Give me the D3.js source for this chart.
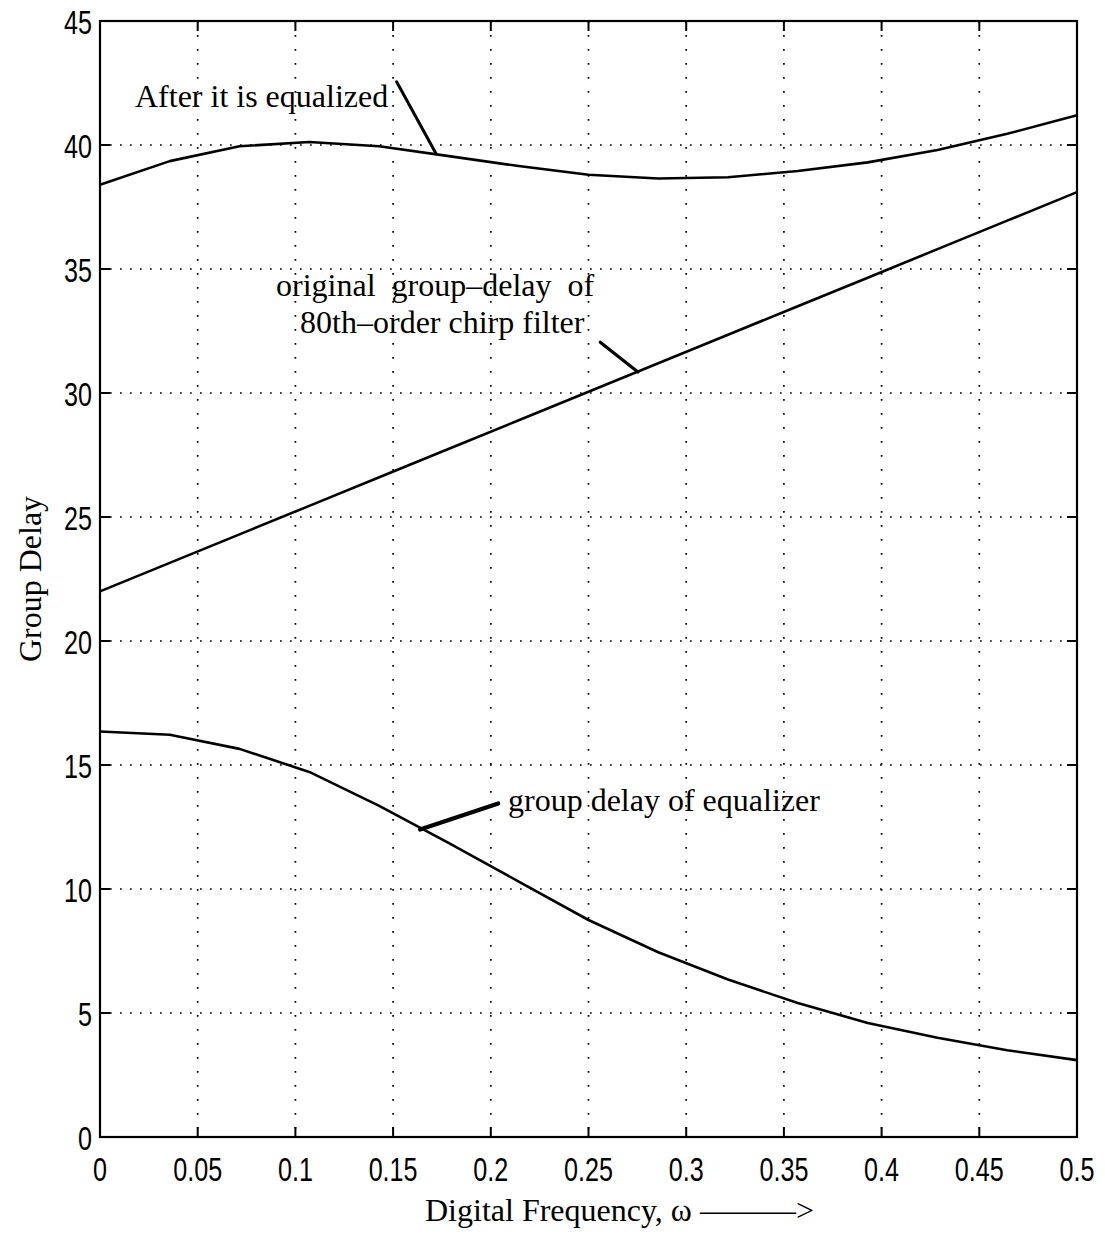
<!DOCTYPE html>
<html>
<head>
<meta charset="utf-8">
<script src="https://cdn.jsdelivr.net/npm/d3@7"></script>
<style>
  body { margin: 0; background: #fff; }
  .tick-label { font-family: "Liberation Sans Narrow", "Arial Narrow", "Liberation Sans", sans-serif; font-size: 34px; fill: #000; }
  .note { font-family: "Liberation Serif", "Times New Roman", serif; font-size: 32px; fill: #000; white-space: pre; }
</style>
</head>
<body>
<div id="chart"></div>
<script>
// sample frequencies (0 .. 0.5 in 14 steps)
const freq = [0, 0.0357, 0.0714, 0.1071, 0.1429, 0.1786, 0.2143, 0.25, 0.2857, 0.3214, 0.3571, 0.3929, 0.4286, 0.4643, 0.5];
const equalized = [38.4, 39.35, 39.95, 40.12, 39.95, 39.55, 39.15, 38.8, 38.65, 38.7, 38.95, 39.3, 39.8, 40.45, 41.2];
const original = [22.0, 23.15, 24.3, 25.45, 26.6, 27.75, 28.9, 30.05, 31.2, 32.35, 33.5, 34.65, 35.8, 36.95, 38.1];
const equalizer = [16.35, 16.22, 15.65, 14.72, 13.35, 11.85, 10.3, 8.75, 7.45, 6.35, 5.4, 4.6, 4.0, 3.5, 3.1];

const xTicks = [0, 0.05, 0.1, 0.15, 0.2, 0.25, 0.3, 0.35, 0.4, 0.45, 0.5];
const xTickLabels = ['0', '0.05', '0.1', '0.15', '0.2', '0.25', '0.3', '0.35', '0.4', '0.45', '0.5'];
const yTicks = [0, 5, 10, 15, 20, 25, 30, 35, 40, 45];

let svgWidth = 1105, svgHeight = 1242,
  plotLeft = 100, plotRight = 1077,
  plotTop = 21, plotBottom = 1137,
  tickLen = 10,
  squeeze = 0.74; // tick font is a condensed sans

const svg = d3.select('#chart')
  .append('svg')
  .attr('width', svgWidth)
  .attr('height', svgHeight);

const x = d3.scaleLinear().domain([0, 0.5]).range([plotLeft, plotRight]);
const y = d3.scaleLinear().domain([0, 45]).range([plotBottom, plotTop]);

// dotted grid
svg.selectAll('.vgrid')
  .data(xTicks.slice(1, -1))
  .enter()
  .append('line')
  .attr('x1', d => x(d)).attr('x2', d => x(d))
  .attr('y1', plotTop).attr('y2', plotBottom)
  .attr('stroke', '#000')
  .attr('stroke-width', 1.7)
  .attr('stroke-dasharray', '1.7,12.3');

svg.selectAll('.hgrid')
  .data(yTicks.slice(1, -1))
  .enter()
  .append('line')
  .attr('x1', plotLeft).attr('x2', plotRight)
  .attr('y1', d => y(d)).attr('y2', d => y(d))
  .attr('stroke', '#000')
  .attr('stroke-width', 1.7)
  .attr('stroke-dasharray', '1.7,8.3');

// inward ticks on all four sides
svg.selectAll('.xtick-b')
  .data(xTicks)
  .enter()
  .append('line')
  .attr('x1', d => x(d)).attr('x2', d => x(d))
  .attr('y1', plotBottom).attr('y2', plotBottom - tickLen)
  .attr('stroke', '#000').attr('stroke-width', 2);

svg.selectAll('.xtick-t')
  .data(xTicks)
  .enter()
  .append('line')
  .attr('x1', d => x(d)).attr('x2', d => x(d))
  .attr('y1', plotTop).attr('y2', plotTop + tickLen)
  .attr('stroke', '#000').attr('stroke-width', 2);

svg.selectAll('.ytick-l')
  .data(yTicks)
  .enter()
  .append('line')
  .attr('x1', plotLeft).attr('x2', plotLeft + tickLen)
  .attr('y1', d => y(d)).attr('y2', d => y(d))
  .attr('stroke', '#000').attr('stroke-width', 2);

svg.selectAll('.ytick-r')
  .data(yTicks)
  .enter()
  .append('line')
  .attr('x1', plotRight).attr('x2', plotRight - tickLen)
  .attr('y1', d => y(d)).attr('y2', d => y(d))
  .attr('stroke', '#000').attr('stroke-width', 2);

// frame
svg.append('rect')
  .attr('x', plotLeft).attr('y', plotTop)
  .attr('width', plotRight - plotLeft).attr('height', plotBottom - plotTop)
  .attr('fill', 'none')
  .attr('stroke', '#000')
  .attr('stroke-width', 2.2);

// tick labels
svg.selectAll('.x-label')
  .data(xTicks)
  .enter()
  .append('text')
  .attr('class', 'tick-label')
  .attr('transform', d => `translate(${x(d)}, ${plotBottom + 44}) scale(${squeeze}, 1)`)
  .attr('text-anchor', 'middle')
  .text((d, i) => xTickLabels[i]);

svg.selectAll('.y-label')
  .data(yTicks)
  .enter()
  .append('text')
  .attr('class', 'tick-label')
  .attr('transform', d => `translate(${plotLeft - 8}, ${y(d) + 12.5}) scale(${squeeze}, 1)`)
  .attr('text-anchor', 'end')
  .text(d => d);

// curves
const line = d3.line()
  .x((d, i) => x(freq[i]))
  .y(d => y(d));

[equalized, original, equalizer].forEach(series => {
  svg.append('path')
    .datum(series)
    .attr('d', line)
    .attr('fill', 'none')
    .attr('stroke', '#000')
    .attr('stroke-width', 2.6)
    .attr('stroke-linejoin', 'round');
});

// annotation pointers, in data units
const pointers = [
  { x1: 0.1518, y1: 42.55, x2: 0.1720, y2: 39.65, w: 3 },
  { x1: 0.2560, y1: 32.05, x2: 0.2753, y2: 30.85, w: 3.2 },
  { x1: 0.2038, y1: 13.45, x2: 0.1638, y2: 12.4, w: 4.2 }
];

svg.selectAll('.pointer')
  .data(pointers)
  .enter()
  .append('line')
  .attr('x1', d => x(d.x1)).attr('y1', d => y(d.y1))
  .attr('x2', d => x(d.x2)).attr('y2', d => y(d.y2))
  .attr('stroke', '#000')
  .attr('stroke-width', d => d.w)
  .attr('stroke-linecap', 'round');

// annotation texts
const notes = [
  { text: 'After it is equalized', fx: 0.0179, gd: 41.55 },
  { text: 'original  group\u2013delay  of', fx: 0.0901, gd: 33.93 },
  { text: '80th\u2013order chirp filter', fx: 0.1024, gd: 32.4 },
  { text: 'group delay of equalizer', fx: 0.2088, gd: 13.15 }
];

svg.selectAll('.note')
  .data(notes)
  .enter()
  .append('text')
  .attr('class', 'note')
  .attr('x', d => x(d.fx))
  .attr('y', d => y(d.gd))
  .text(d => d.text);

// axis titles
svg.append('text')
  .attr('class', 'note')
  .attr('x', 425)
  .attr('y', 1221)
  .text('Digital Frequency, \u03c9 \u2014\u2014\u2014>');

svg.append('text')
  .attr('class', 'note')
  .attr('transform', `translate(41, ${(plotTop + plotBottom) / 2}) rotate(-90)`)
  .attr('text-anchor', 'middle')
  .text('Group Delay');
</script>
</body>
</html>
